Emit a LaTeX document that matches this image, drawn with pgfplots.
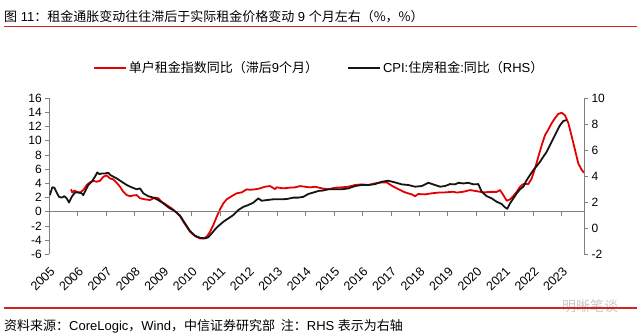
\documentclass[border=0pt]{standalone}
\usepackage{pgfplots}
\usepackage{pgfplotstable}
\pgfplotsset{compat=1.18}
\usepackage{fontspec}
\setmainfont{Liberation Sans}
\newfontfamily\cjk{Noto Sans CJK SC}
\definecolor{myred}{RGB}{228,0,0}
\definecolor{myblack}{RGB}{25,20,20}
\definecolor{rulered}{RGB}{210,35,35}
\definecolor{axgray}{RGB}{128,128,128}

\pgfplotstableread{
x y
2005.762 3.16
2005.808 2.7
2005.878 3.0
2005.962 2.82
2006.078 2.7
2006.194 3.06
2006.314 3.77
2006.430 4.14
2006.545 4.37
2006.665 4.23
2006.781 4.37
2006.897 4.94
2007.016 5.13
2007.132 4.7
2007.248 4.56
2007.367 4.09
2007.483 3.53
2007.599 2.82
2007.719 2.35
2007.835 2.2
2007.950 2.3
2008.070 2.35
2008.186 1.9
2008.361 1.75
2008.537 1.65
2008.713 2.0
2008.829 1.9
2008.948 1.4
2009.124 0.94
2009.299 0.47
2009.475 -0.14
2009.591 -0.6
2009.707 -1.41
2009.826 -2.1
2009.942 -2.82
2010.118 -3.43
2010.293 -3.76
2010.409 -3.76
2010.529 -3.53
2010.645 -2.82
2010.760 -1.88
2010.880 -0.7
2010.996 0.33
2011.112 1.18
2011.231 1.75
2011.407 2.2
2011.582 2.6
2011.758 2.73
2011.933 3.16
2012.049 3.1
2012.225 3.16
2012.401 3.3
2012.576 3.53
2012.752 3.62
2012.928 3.2
2012.987 3.44
2013.219 3.3
2013.454 3.4
2013.630 3.44
2013.806 3.62
2013.981 3.53
2014.157 3.44
2014.333 3.53
2014.568 3.3
2014.800 3.16
2015.035 3.39
2015.270 3.44
2015.502 3.53
2015.738 3.77
2015.973 3.86
2016.205 3.77
2016.440 4.0
2016.675 4.14
2016.851 4.14
2017.027 3.67
2017.258 3.2
2017.494 2.73
2017.729 2.45
2017.845 2.2
2017.961 2.5
2018.196 2.45
2018.432 2.6
2018.663 2.7
2018.899 2.73
2019.190 2.82
2019.310 2.7
2019.542 2.82
2019.777 3.06
2020.012 2.9
2020.244 2.73
2020.480 2.8
2020.715 2.8
2020.831 3.06
2020.946 2.35
2021.066 1.55
2021.182 1.75
2021.298 2.2
2021.417 2.82
2021.533 3.53
2021.649 3.9
2021.825 3.9
2021.944 4.7
2022.060 6.12
2022.176 7.76
2022.296 9.4
2022.411 10.8
2022.527 11.6
2022.647 12.5
2022.763 13.2
2022.878 13.8
2022.998 13.96
2023.114 13.6
2023.230 12.5
2023.349 10.6
2023.465 8.7
2023.581 6.8
2023.700 5.9
2023.781 5.5
}\redtab

\pgfplotstableread{
x y
2005.020 2.55
2005.105 3.15
2005.176 3.13
2005.260 2.75
2005.341 2.42
2005.436 2.36
2005.527 2.47
2005.611 2.31
2005.692 1.98
2005.787 2.42
2005.903 2.75
2006.019 2.75
2006.138 2.69
2006.194 2.55
2006.279 2.94
2006.370 3.33
2006.489 3.58
2006.605 3.97
2006.686 4.30
2006.756 4.16
2006.841 4.22
2006.956 4.22
2007.072 4.27
2007.143 4.10
2007.248 3.97
2007.367 3.84
2007.543 3.58
2007.719 3.33
2007.894 3.15
2008.070 3.00
2008.186 3.07
2008.302 2.69
2008.477 2.47
2008.653 2.36
2008.829 2.17
2009.004 1.92
2009.124 1.71
2009.240 1.53
2009.355 1.40
2009.475 1.20
2009.591 0.97
2009.766 0.38
2009.942 -0.21
2010.118 -0.57
2010.293 -0.73
2010.469 -0.78
2010.585 -0.69
2010.704 -0.39
2010.820 -0.09
2010.936 0.17
2011.112 0.50
2011.287 0.76
2011.463 1.02
2011.638 1.40
2011.814 1.65
2011.990 1.79
2012.165 1.97
2012.341 2.30
2012.460 2.12
2012.636 2.17
2012.868 2.23
2013.103 2.23
2013.339 2.25
2013.570 2.36
2013.746 2.36
2013.922 2.42
2014.097 2.64
2014.273 2.75
2014.484 2.89
2014.568 2.89
2014.800 3.00
2015.035 3.00
2015.270 3.00
2015.502 3.07
2015.738 3.25
2015.973 3.33
2016.205 3.33
2016.440 3.40
2016.675 3.58
2016.907 3.66
2017.143 3.53
2017.378 3.38
2017.610 3.33
2017.845 3.20
2018.080 3.25
2018.312 3.50
2018.547 3.33
2018.723 3.20
2018.899 3.25
2019.074 3.40
2019.250 3.38
2019.366 3.50
2019.542 3.45
2019.717 3.50
2019.893 3.38
2020.068 3.40
2020.188 2.81
2020.364 2.47
2020.539 2.30
2020.715 2.04
2020.890 1.87
2021.006 1.61
2021.087 1.50
2021.182 1.92
2021.298 2.30
2021.417 2.69
2021.533 3.00
2021.649 3.20
2021.768 3.71
2021.884 4.10
2022.000 4.48
2022.120 4.79
2022.236 5.12
2022.352 5.51
2022.471 5.89
2022.587 6.40
2022.703 6.92
2022.822 7.43
2022.938 7.93
2023.054 8.25
2023.174 8.33
}\blacktab

\begin{document}
\begin{tikzpicture}
\path[use as bounding box] (0pt,0pt) rectangle (640pt,334pt);
\node[anchor=west, inner sep=0, font=\fontsize{13}{15}\selectfont] at (4pt,317.5pt)
  {{\cjk 图} 11{\cjk ：租金通胀变动往往滞后于实际租金价格变动} 9 {\cjk 个月左右（\%，\%）}};
\draw[rulered, line width=1.5pt] (4pt,307.5pt) -- (637pt,307.5pt);
\node[anchor=center, inner sep=0, text=black!22, font=\cjk\fontsize{14}{16}\selectfont] at (590pt,28pt) {明晰笔谈};
\draw[rulered, line width=1.5pt] (4pt,26pt) -- (637pt,26pt);
\node[anchor=west, inner sep=0, font=\fontsize{13}{15}\selectfont] at (4pt,7.5pt)
  {{\cjk 资料来源：}CoreLogic{\cjk ，}Wind{\cjk ，中信证券研究部\ \ 注：}RHS {\cjk 表示为右轴}};

\begin{axis}[
  at={(49.3pt,79.7pt)}, anchor=south west,
  scale only axis, width=534.7pt, height=156pt,
  xmin=2005, xmax=2023.78, ymin=-6, ymax=16,
  axis y line*=left, axis x line*=bottom,
  x axis line style={draw=none},
  y axis line style={-, axgray, line width=0.8pt},
  xtick={2005,...,2023},
  major x tick style={draw=none},
  ytick={-6,-4,...,16},
  ytick style={axgray, line width=0.8pt},
  tick align=outside, major tick length=4pt,
  /pgf/number format/assume math mode=true,
  x tick label style={/pgf/number format/1000 sep={}, xshift=4pt, yshift=-10pt,
     rotate=45, anchor=east, font=\fontsize{12.5}{14}\selectfont, inner sep=1pt},
  y tick label style={font=\fontsize{12}{14}\selectfont},
]
\addplot[myred, line width=1.8pt, line join=round] table[x=x,y=y] {\redtab};
\end{axis}

% zero line with year ticks (sits at y = 0 of the left axis)
\begin{axis}[
  at={(49.3pt,122.3pt)}, anchor=south west,
  scale only axis, width=534.7pt, height=20pt,
  xmin=2005, xmax=2023.78, ymin=0, ymax=1,
  axis x line*=bottom, axis y line=none,
  x axis line style={-, axgray, line width=0.8pt},
  xtick={2005,...,2023}, xticklabels={},
  xtick style={axgray, line width=0.8pt},
  tick align=outside, major tick length=4pt,
]
\end{axis}

\begin{axis}[
  at={(49.3pt,79.7pt)}, anchor=south west,
  scale only axis, width=534.7pt, height=156pt,
  xmin=2005, xmax=2023.78, ymin=-2, ymax=10,
  axis y line*=right, axis x line=none,
  y axis line style={-, axgray, line width=0.8pt},
  ytick={-2,0,...,10},
  ytick style={axgray, line width=0.8pt},
  tick align=outside, major tick length=4pt,
  /pgf/number format/assume math mode=true,
  y tick label style={font=\fontsize{12}{14}\selectfont},
  legend columns=2,
  legend image code/.code={\draw[#1] (0pt,0pt) -- (32pt,0pt);},
  legend style={at={(0.0817,1.194)}, anchor=west, draw=none, fill=none,
    inner sep=0pt, font=\fontsize{13}{15}\selectfont,
    /tikz/every even column/.append style={column sep=27pt}},
]
\addlegendimage{myred, line width=1.8pt}
\addlegendentry{{\cjk 单户租金指数同比（滞后}9{\cjk 个月）}}
\addplot[myblack, line width=1.8pt, line join=round] table[x=x,y=y] {\blacktab};
\addlegendentry{CPI:{\cjk 住房租金}:{\cjk 同比（}RHS{\cjk ）}}
\end{axis}
\end{tikzpicture}
\end{document}
